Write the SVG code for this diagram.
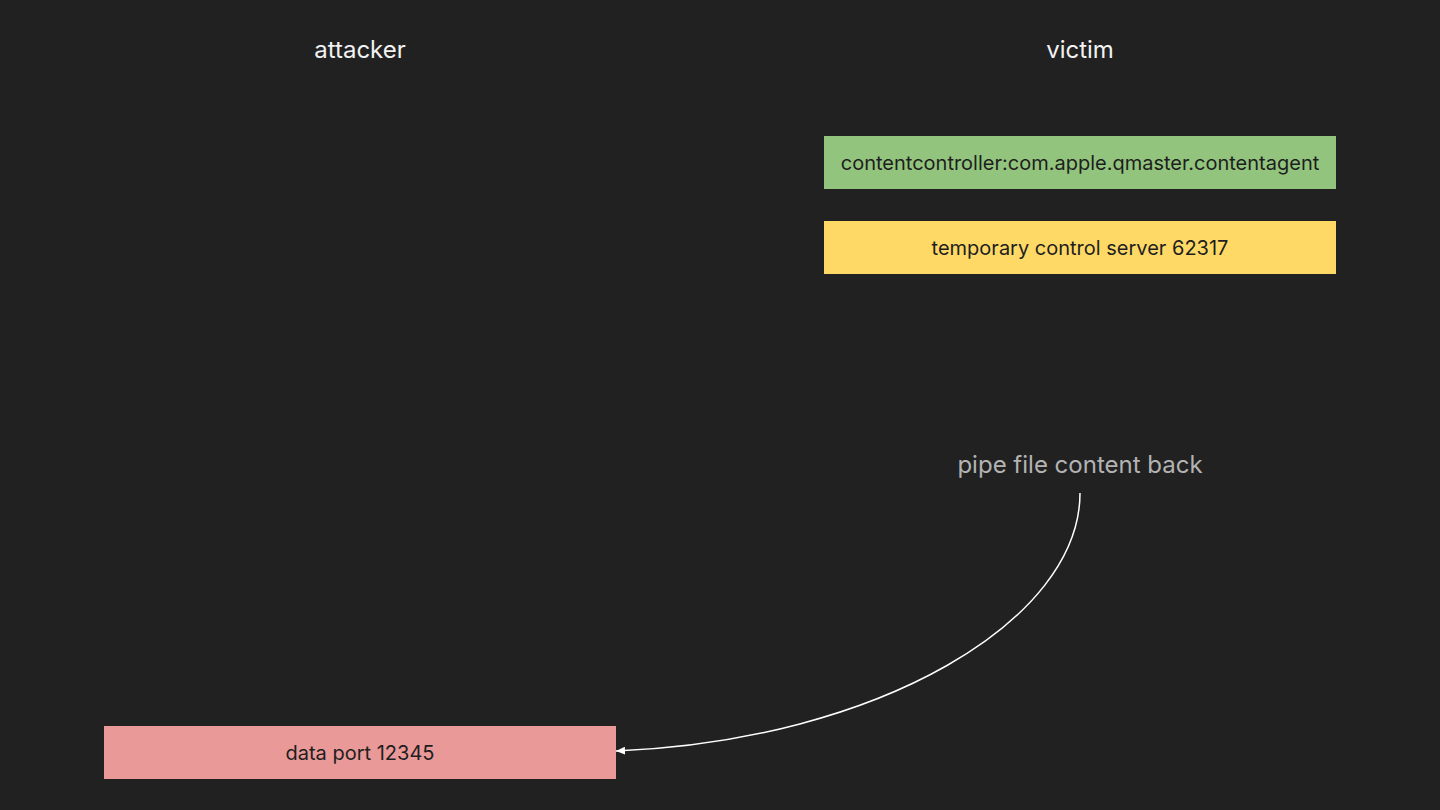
<svg xmlns="http://www.w3.org/2000/svg" width="1440" height="810" viewBox="0 0 1440 810">
<style>
.hdr{font-family:Inter,"Liberation Sans",sans-serif;font-size:24px;fill:#f2f2f2;text-anchor:middle}
.lbl{font-family:Inter,"Liberation Sans",sans-serif;font-size:20px;fill:#1e1e1e;text-anchor:middle}
.note{font-family:Inter,"Liberation Sans",sans-serif;font-size:24px;fill:#b3b3b3;text-anchor:middle}
.conn{fill:none;stroke:#ffffff;stroke-width:1.5}
</style>
<defs>
<marker id="arr" markerWidth="10" markerHeight="10" refX="9" refY="5" orient="auto" markerUnits="userSpaceOnUse">
<path d="M0,1 L9,5 L0,9 Z" fill="#ffffff"/>
</marker>
</defs>
<rect width="1440" height="810" fill="#212121"/>
<g id="header-attacker"><text class="hdr" x="360" y="58">attacker</text></g>
<g id="header-victim"><text class="hdr" x="1080" y="58">victim</text></g>
<g id="node-contentcontroller">
<rect x="824" y="136" width="512" height="53" fill="#92c47d"/>
<text class="lbl" x="1080" y="170">contentcontroller:com.apple.qmaster.contentagent</text>
</g>
<g id="node-control-server">
<rect x="824" y="221" width="512" height="53" fill="#ffd966"/>
<text class="lbl" x="1080" y="255">temporary control server 62317</text>
</g>
<g id="node-data-port">
<rect x="104" y="726" width="512" height="53" fill="#ea9999"/>
<text class="lbl" x="360" y="760">data port 12345</text>
</g>
<g id="label-pipe"><text class="note" x="1080" y="473">pipe file content back</text></g>
<g id="connectors">
<path class="conn" d="M1080,493 C1080,620 880,740 616,751" marker-end="url(#arr)"/>
</g>
</svg>
